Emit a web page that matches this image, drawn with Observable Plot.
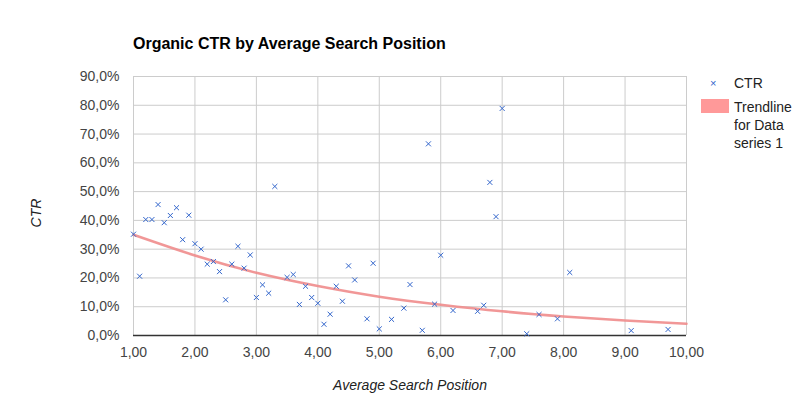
<!DOCTYPE html>
<html>
<head>
<meta charset="utf-8">
<script src="https://cdn.jsdelivr.net/npm/d3@7"></script>
<script src="https://cdn.jsdelivr.net/npm/@observablehq/plot@0.6"></script>
<style>
  html, body { margin: 0; padding: 0; background: #fff; }
  #wrap { position: relative; width: 812px; height: 403px; font-family: Arial, "Liberation Sans", sans-serif; }
  #title { position: absolute; left: 133px; top: 35px; font-size: 16px; font-weight: bold; color: #000; white-space: nowrap; }
  .lg { position: absolute; font-size: 14px; color: #222; line-height: 18px; white-space: nowrap; }
  #ytitle { position: absolute; left: 36px; top: 213px; transform: translate(-50%, -50%) rotate(-90deg); font-size: 14px; font-style: italic; color: #222; }
  #xtitle { position: absolute; left: 410px; top: 377px; transform: translateX(-50%); font-size: 14px; font-style: italic; color: #222; white-space: nowrap; }
  svg { display: block; }
</style>
</head>
<body>
<div id="wrap"></div>
<script>
// Scatter data: average search position and CTR (fraction)
const positions = [1.0,1.1,1.2,1.3,1.4,1.5,1.6,1.7,1.8,1.9,2.0,2.1,2.2,2.3,2.4,2.5,2.6,2.7,2.8,2.9,3.0,3.1,3.2,3.3,3.5,3.6,3.7,3.8,3.9,4.0,4.1,4.2,4.3,4.4,4.5,4.6,4.8,4.9,5.0,5.2,5.4,5.5,5.7,5.8,5.9,6.0,6.2,6.6,6.7,6.8,6.9,7.0,7.4,7.6,7.9,8.1,9.1,9.7];
const ctr = [0.352,0.206,0.403,0.403,0.455,0.392,0.417,0.444,0.333,0.418,0.319,0.300,0.248,0.257,0.222,0.124,0.248,0.310,0.234,0.280,0.132,0.176,0.147,0.518,0.202,0.212,0.108,0.171,0.132,0.112,0.039,0.074,0.171,0.119,0.242,0.193,0.058,0.251,0.023,0.056,0.095,0.177,0.018,0.666,0.109,0.279,0.087,0.084,0.105,0.532,0.413,0.789,0.006,0.073,0.058,0.219,0.017,0.021];
// Trendline values at integer positions
const trendX = [1,2,3,4,5,6,7,8,9,10];
const trendY = [0.350,0.278,0.218,0.172,0.135,0.107,0.084,0.066,0.052,0.041];
const xTicks = [1,2,3,4,5,6,7,8,9,10];
const yTicks = [0,0.1,0.2,0.3,0.4,0.5,0.6,0.7,0.8,0.9];

const points = positions.map((p, i) => ({x: p, y: ctr[i]}));
const trend = trendX.map((p, i) => ({x: p, y: trendY[i]}));

const fmtX = d => d.toFixed(2).replace(".", ",");
const fmtY = d => (d * 100).toFixed(1).replace(".", ",") + "%";

const chart = Plot.plot({
  width: 812,
  height: 403,
  marginLeft: 133,
  marginRight: 126,
  marginTop: 76,
  marginBottom: 68,
  style: {fontFamily: "Arial, 'Liberation Sans', sans-serif", fontSize: "14px", color: "#444", background: "#fff"},
  x: {domain: [1, 10], ticks: xTicks, tickFormat: fmtX, label: null, tickSize: 0, tickPadding: 12},
  y: {domain: [0, 0.9], ticks: yTicks, tickFormat: fmtY, label: null, tickSize: 0, tickPadding: 14},
  marks: [
    Plot.gridX(xTicks, {stroke: "#cccccc", strokeOpacity: 1, strokeWidth: 1}),
    Plot.gridY(yTicks, {stroke: "#cccccc", strokeOpacity: 1, strokeWidth: 1}),
    Plot.axisX(xTicks, {tickFormat: fmtX, tickSize: 0, tickPadding: 12, fill: "#444", label: null}),
    Plot.axisY(yTicks, {tickFormat: fmtY, tickSize: 0, tickPadding: 14, fill: "#444", label: null}),
    Plot.line(trend, {x: "x", y: "y", curve: "natural", stroke: "#f08c8c", strokeWidth: 2.5, strokeOpacity: 0.9}),
    Plot.ruleY([0], {stroke: "#333", strokeWidth: 1.5}),
    Plot.dot(points, {x: "x", y: "y", symbol: "times", r: 2.4, stroke: "#3366cc", strokeWidth: 1})
  ]
});

const wrap = document.getElementById("wrap");
wrap.appendChild(chart);

const add = (html, id, cls, style) => {
  const d = document.createElement("div");
  if (id) d.id = id;
  if (cls) d.className = cls;
  if (style) d.setAttribute("style", style);
  d.innerHTML = html;
  wrap.appendChild(d);
};
add("Organic CTR by Average Search Position", "title");
add("CTR", "ytitle");
add("Average Search Position", "xtitle");
// Legend
add("×", null, "lg", "left:710px; top:74px; color:#3366cc; font-size:11px;");
add("CTR", null, "lg", "left:734px; top:74px;");
add("", null, "lg", "left:701px; top:99px; width:28px; height:14px; background:#ff9999;");
add("Trendline<br>for Data<br>series 1", null, "lg", "left:734px; top:98px;");
</script>
</body>
</html>
